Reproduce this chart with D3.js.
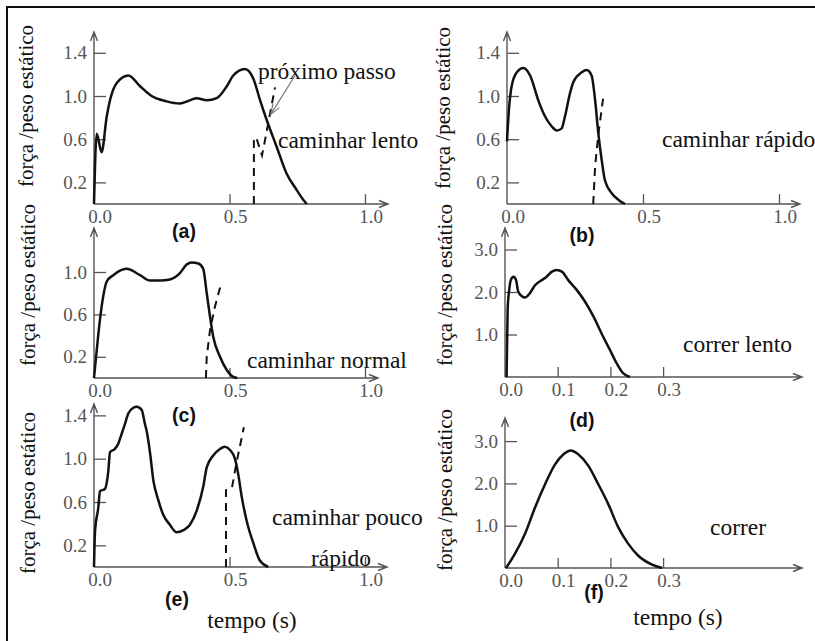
<!DOCTYPE html>
<html>
<head>
<meta charset="utf-8">
<script src="https://cdn.jsdelivr.net/npm/d3@7"></script>
<style>
  body { margin: 0; background: #fff; }
  svg text { font-family: "Liberation Serif", "Times New Roman", serif; }
</style>
</head>
<body>
<svg id="fig" width="815" height="641"></svg>
<script>
// tick values / labels
const walkXTicks = [0.5, 1.0];
const walkXLabels = ["0.0", "0.5", "1.0"];
const walkXLabelPos = [0, 0.5, 1.0];
const walkYTicks = [0.2, 0.6, 1.0, 1.4];
const normalYTicks = [0.2, 0.6, 1.0];
const runXTicks = [0.1, 0.2, 0.3];
const runXLabels = ["0.0", "0.1", "0.2", "0.3"];
const runXLabelPos = [0, 0.1, 0.2, 0.3];
const runYTicks = [1.0, 2.0, 3.0];

// (a) caminhar lento
const lentoT = [0, 0.01, 0.028, 0.047, 0.059, 0.084, 0.127, 0.17, 0.207, 0.268, 0.317, 0.354, 0.379, 0.416, 0.453, 0.49, 0.514, 0.557, 0.588, 0.613, 0.637, 0.674, 0.711, 0.748, 0.772, 0.785];
const lentoF = [0, 0.65, 0.48, 0.81, 0.96, 1.12, 1.19, 1.09, 1.01, 0.95, 0.93, 0.96, 0.98, 0.96, 0.98, 1.09, 1.19, 1.25, 1.16, 0.96, 0.78, 0.53, 0.28, 0.13, 0.04, 0];
const lentoNextT = [0.59, 0.59, 0.598, 0.62, 0.631, 0.668];
const lentoNextF = [0, 0.59, 0.62, 0.45, 0.59, 1.08];

// (b) caminhar rapido
const rapidoT = [0, 0.007, 0.017, 0.036, 0.06, 0.085, 0.115, 0.14, 0.164, 0.183, 0.201, 0.213, 0.232, 0.244, 0.275, 0.293, 0.311, 0.324, 0.336, 0.348, 0.36, 0.385, 0.409, 0.434];
const rapidoF = [0.58, 0.87, 1.09, 1.22, 1.26, 1.19, 0.96, 0.81, 0.72, 0.68, 0.70, 0.81, 1.03, 1.13, 1.22, 1.24, 1.19, 0.96, 0.65, 0.41, 0.22, 0.1, 0.04, 0];
const rapidoNextT = [0.317, 0.324, 0.336, 0.354];
const rapidoNextF = [0, 0.35, 0.65, 0.99];

// (c) caminhar normal
const normalT = [0, 0.01, 0.022, 0.034, 0.047, 0.071, 0.12, 0.17, 0.207, 0.244, 0.28, 0.317, 0.342, 0.36, 0.385, 0.403, 0.416, 0.428, 0.44, 0.465, 0.49, 0.514, 0.529];
const normalF = [0, 0.26, 0.55, 0.77, 0.91, 0.97, 1.03, 0.97, 0.92, 0.92, 0.93, 0.99, 1.07, 1.09, 1.08, 1.03, 0.80, 0.58, 0.39, 0.20, 0.075, 0.01, 0];
const normalNextT = [0.413, 0.416, 0.428, 0.446, 0.471];
const normalNextF = [0, 0.2, 0.45, 0.67, 0.91];

// (d) correr lento
const corLentoT = [0.003, 0.005, 0.008, 0.011, 0.016, 0.021, 0.025, 0.032, 0.038, 0.047, 0.057, 0.07, 0.079, 0.089, 0.098, 0.108, 0.12, 0.136, 0.152, 0.168, 0.183, 0.199, 0.212, 0.224, 0.237];
const corLentoF = [0, 1.58, 2.05, 2.28, 2.36, 2.28, 2.01, 1.9, 1.87, 1.97, 2.16, 2.28, 2.36, 2.48, 2.52, 2.48, 2.28, 2.05, 1.77, 1.42, 1.03, 0.64, 0.32, 0.09, 0];

// (e) caminhar pouco rapido
const poucoT = [0, 0.004, 0.016, 0.022, 0.04, 0.053, 0.059, 0.077, 0.09, 0.102, 0.114, 0.127, 0.145, 0.158, 0.176, 0.188, 0.194, 0.207, 0.219, 0.237, 0.256, 0.28, 0.305, 0.33, 0.354, 0.379, 0.403, 0.416, 0.44, 0.465, 0.483, 0.502, 0.52, 0.532, 0.545, 0.563, 0.588, 0.612, 0.643];
const poucoF = [0, 0.34, 0.55, 0.7, 0.72, 0.89, 1.06, 1.09, 1.14, 1.23, 1.32, 1.42, 1.47, 1.48, 1.45, 1.32, 1.26, 1.05, 0.8, 0.62, 0.48, 0.39, 0.32, 0.34, 0.39, 0.52, 0.74, 0.92, 1.03, 1.09, 1.11, 1.08, 1.0, 0.86, 0.65, 0.43, 0.22, 0.06, 0];
const poucoNextT = [0.487, 0.487, 0.509, 0.524, 0.553];
const poucoNextF = [0, 0.71, 0.73, 0.94, 1.29];

// (f) correr
const correrT = [0.002, 0.019, 0.038, 0.057, 0.076, 0.095, 0.111, 0.125, 0.139, 0.158, 0.177, 0.196, 0.215, 0.234, 0.253, 0.279, 0.298];
const correrF = [0, 0.34, 0.81, 1.43, 1.98, 2.45, 2.69, 2.78, 2.69, 2.42, 1.98, 1.51, 0.96, 0.57, 0.29, 0.08, 0];

const yLabel = "força /peso estático";

const svg = d3.select("#fig");

// frame (top and left edges only, the rest is cropped in the original)
svg.append("path")
    .attr("d", "M7,641V7H815")
    .attr("fill", "none")
    .attr("stroke", "#111")
    .attr("stroke-width", 2);

function zip(ts, fs) {
    return ts.map((t, i) => [t, fs[i]]);
}

function drawPanel(p) {
    const X = d3.scaleLinear().domain([0, 1]).range([p.x0, p.x0 + p.xUnit]);
    const Y = d3.scaleLinear().domain([0, 1]).range([p.y0, p.y0 - p.yUnit]);
    const g = svg.append("g");

    // y ticks drawn inward
    const yAxis = d3.axisLeft(Y)
        .tickValues(p.yTicks)
        .tickFormat(d3.format(".1f"))
        .tickSize(-12)
        .tickPadding(7);
    const ya = g.append("g").attr("transform", `translate(${X(0)},0)`).call(yAxis);
    ya.select(".domain").remove();
    ya.selectAll("line").attr("stroke", "#555").attr("stroke-width", 1.3);
    ya.selectAll("text")
        .attr("fill", "#555")
        .style("font-size", "19px")
        .style("font-family", "Liberation Serif, serif");

    // x ticks drawn inward
    const xAxis = d3.axisBottom(X)
        .tickValues(p.xTicks)
        .tickFormat("")
        .tickSize(-10);
    const xa = g.append("g").attr("transform", `translate(0,${Y(0)})`).call(xAxis);
    xa.select(".domain").remove();
    xa.selectAll("line").attr("stroke", "#555").attr("stroke-width", 1.3);

    g.selectAll("text.xlab")
        .data(p.xLabelPos)
        .enter()
        .append("text")
        .attr("class", "xlab")
        .attr("x", d => X(d) + 6)
        .attr("y", Y(0) + 19)
        .attr("text-anchor", "middle")
        .attr("fill", "#555")
        .style("font-size", "19px")
        .text((d, i) => p.xLabels[i]);

    // axis lines with open arrow heads
    const ax = X(0), ay = Y(0);
    g.append("path")
        .attr("d", `M${ax},${ay}V${p.yTop}M${ax - 3.5},${p.yTop + 9}L${ax},${p.yTop}L${ax + 3.5},${p.yTop + 9}`)
        .attr("fill", "none").attr("stroke", "#555").attr("stroke-width", 1.4);
    g.append("path")
        .attr("d", `M${ax},${ay}H${p.xEnd}M${p.xEnd - 9},${ay - 3.5}L${p.xEnd},${ay}L${p.xEnd - 9},${ay + 3.5}`)
        .attr("fill", "none").attr("stroke", "#555").attr("stroke-width", 1.4);

    // force curve
    const line = d3.line().x(d => X(d[0])).y(d => Y(d[1])).curve(d3.curveMonotoneX);
    g.append("path")
        .datum(zip(p.t, p.f))
        .attr("d", line)
        .attr("fill", "none")
        .attr("stroke", "#111")
        .attr("stroke-width", 2.5)
        .attr("stroke-linejoin", "round");

    // next step (dashed)
    if (p.nt) {
        const dline = d3.line().x(d => X(d[0])).y(d => Y(d[1]));
        g.append("path")
            .datum(zip(p.nt, p.nf))
            .attr("d", dline)
            .attr("fill", "none")
            .attr("stroke", "#111")
            .attr("stroke-width", 2)
            .attr("stroke-dasharray", "8,6");
    }

    // y label
    g.append("text")
        .attr("transform", `translate(${p.labX},${p.labY}) rotate(-90)`)
        .attr("text-anchor", "middle")
        .attr("fill", "#111")
        .style("font-size", "21px")
        .text(yLabel);

    // panel letter
    g.append("text")
        .attr("x", p.letterX)
        .attr("y", p.letterY)
        .attr("text-anchor", "middle")
        .attr("fill", "#111")
        .style("font-family", "Liberation Sans, Arial, sans-serif")
        .style("font-weight", "bold")
        .style("font-size", "19.5px")
        .text(p.letter);

    p.notes.forEach(function (n) {
        g.append("text")
            .attr("x", n[1])
            .attr("y", n[2])
            .attr("text-anchor", n[3] || "start")
            .attr("fill", "#111")
            .style("font-size", "23.5px")
            .text(n[0]);
    });

    return [X, Y, g];
}

const walkX = { xTicks: walkXTicks, xLabels: walkXLabels, xLabelPos: walkXLabelPos, xUnit: 271 };
const runX = { xTicks: runXTicks, xLabels: runXLabels, xLabelPos: runXLabelPos, xUnit: 527 };

const [XA, YA, gA] = drawPanel(Object.assign({}, walkX, {
    x0: 94, y0: 204, yUnit: 108, yTop: 32, xEnd: 388, yTicks: walkYTicks,
    t: lentoT, f: lentoF, nt: lentoNextT, nf: lentoNextF,
    labX: 33, labY: 106, letter: "(a)", letterX: 184, letterY: 238,
    notes: [["próximo passo", 258, 79], ["caminhar lento", 278, 148]]
}));

// arrow from "próximo passo" to the curve
const tail = [0.742, 1.19], head = [0.652, 0.83];
const hx = XA(head[0]), hy = YA(head[1]);
const ang = Math.atan2(YA(tail[1]) - hy, XA(tail[0]) - hx);
gA.append("path")
    .attr("d", `M${XA(tail[0])},${YA(tail[1])}L${hx},${hy}` +
        `M${hx + 11 * Math.cos(ang + 0.35)},${hy + 11 * Math.sin(ang + 0.35)}L${hx},${hy}` +
        `L${hx + 11 * Math.cos(ang - 0.35)},${hy + 11 * Math.sin(ang - 0.35)}`)
    .attr("fill", "none")
    .attr("stroke", "#777")
    .attr("stroke-width", 1.2);

drawPanel(Object.assign({}, walkX, {
    x0: 507, xUnit: 272, y0: 204, yUnit: 108, yTop: 32, xEnd: 800, yTicks: walkYTicks,
    t: rapidoT, f: rapidoF, nt: rapidoNextT, nf: rapidoNextF,
    labX: 450, labY: 108, letter: "(b)", letterX: 582, letterY: 242,
    notes: [["caminhar rápido", 662, 147]]
}));

drawPanel(Object.assign({}, walkX, {
    x0: 94, y0: 378, yUnit: 106, yTop: 228, xEnd: 378, yTicks: normalYTicks,
    t: normalT, f: normalF, nt: normalNextT, nf: normalNextF,
    labX: 35, labY: 285, letter: "(c)", letterX: 184, letterY: 422,
    notes: [["caminhar normal", 247, 368]]
}));

drawPanel(Object.assign({}, runX, {
    x0: 505, y0: 377, yUnit: 42.5, yTop: 228, xEnd: 802, yTicks: runYTicks,
    t: corLentoT, f: corLentoF,
    labX: 452, labY: 285, letter: "(d)", letterX: 582, letterY: 427,
    notes: [["correr lento", 683, 352]]
}));

drawPanel(Object.assign({}, walkX, {
    x0: 94, y0: 567, yUnit: 108.3, yTop: 404, xEnd: 387, yTicks: walkYTicks,
    t: poucoT, f: poucoF, nt: poucoNextT, nf: poucoNextF,
    labX: 35, labY: 493, letter: "(e)", letterX: 177, letterY: 606,
    notes: [["caminhar pouco", 272, 525], ["rápido", 341, 566, "middle"], ["tempo (s)", 252, 628, "middle"]]
}));

drawPanel(Object.assign({}, runX, {
    x0: 505, y0: 568, yUnit: 42.3, yTop: 418, xEnd: 802, yTicks: runYTicks,
    t: correrT, f: correrF,
    labX: 452, labY: 490, letter: "(f)", letterX: 594, letterY: 599,
    notes: [["correr", 710, 535], ["tempo (s)", 678, 625, "middle"]]
}));
</script>
</body>
</html>
